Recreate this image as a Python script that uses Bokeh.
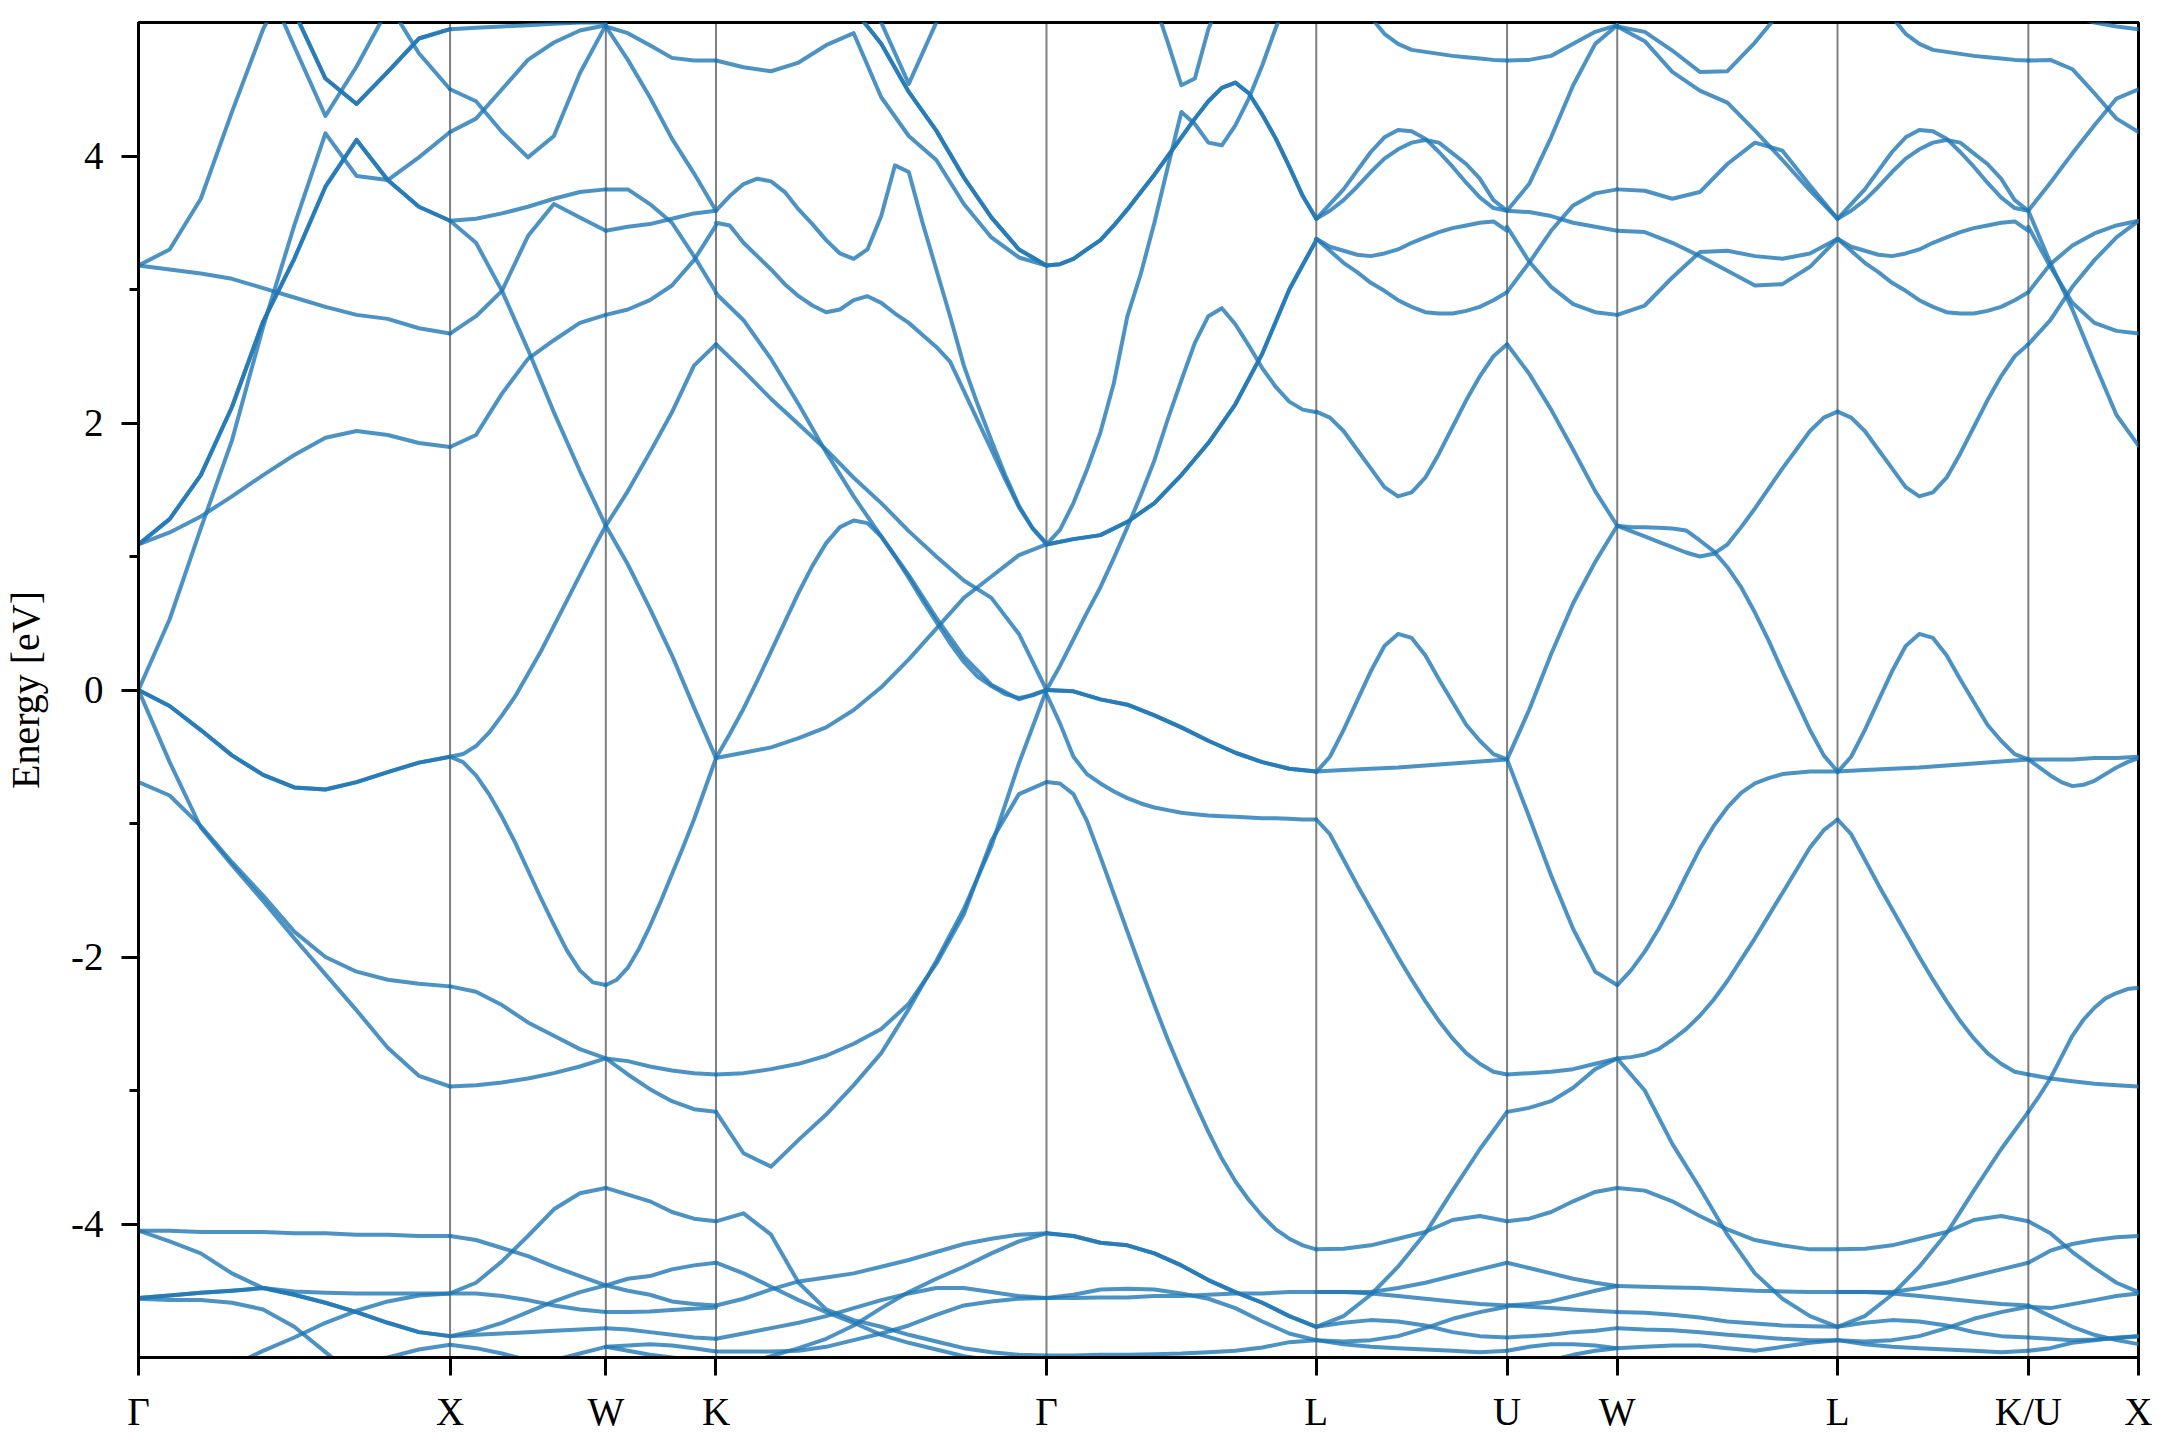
import math
from bokeh.plotting import figure
from bokeh.models import Range1d, FixedTicker, Span
from bokeh.embed import file_html
from bokeh.resources import INLINE

# ---------------- data ----------------
PATH_LABELS = ["Γ", "X", "W", "K", "Γ", "L", "U", "W", "L", "K/U", "X"]
SEGMENT_LENGTHS = [1.0, 0.5, 0.3536, 1.0607, 0.8660, 0.6124, 0.3536, 0.7071, 0.6124, 0.3536]
E_RANGE = (-5.0, 5.0)
Y_MAJOR = [-4, -2, 0, 2, 4]
Y_MAJOR_LABELS = ["-4", "-2", "0", "2", "4"]
Y_MINOR = [-3, -1, 1, 3]
N = None

# Energies (eV) read at equal steps along each segment (each band has its own step count)
GAMMA_X = {
    "double": [
        [0, -0.12, -0.30, -0.49, -0.636, -0.73, -0.745, -0.69, -0.615, -0.544, -0.50],
        [1.09, 1.28, 1.61, 2.12, 2.76, 3.23, 3.77, 4.12, 3.82, 3.62, 3.515],
        [N, N, N, N, 5.5, 5.08, 4.58, 4.39, 4.63, 4.88, 4.95],
        [-4.555, -4.535, -4.515, -4.50, -4.48, -4.53, -4.59, -4.66, -4.74, -4.81, -4.84],
    ],
    "single": [
        [0, -0.54, -1.03, -1.31, -1.58, -1.86, -2.13, -2.40, -2.68, -2.89, -2.97],
        [-0.69, -0.79, -1.02, -1.29, -1.54, -1.81, -2.00, -2.11, -2.17, -2.20, -2.22],
        [0, 0.53, 1.21, 1.87, 2.72, 3.48, 4.17, 3.85, 3.82, 3.99, 4.18],
        [1.09, 1.18, 1.30, 1.45, 1.61, 1.76, 1.89, 1.94, 1.91, 1.85, 1.82],
        [3.18, 3.30, 3.68, 4.33, 4.95, 5.4, N, N, N, N, N],
        [3.18, 3.15, 3.12, 3.08, 3.01, 2.94, 2.87, 2.81, 2.78, 2.71, 2.67],
        [N, N, N, N, 5.35, 4.82, 4.30, 4.67, 5.1, N, N],
        [N, N, N, N, N, N, N, 5.5, 5.15, 4.77, 4.50],
        [-4.05, -4.05, -4.06, -4.06, -4.06, -4.07, -4.07, -4.08, -4.08, -4.09, -4.09],
        [-4.05, -4.13, -4.22, -4.37, -4.48, -4.505, -4.515, -4.52, -4.52, -4.52, -4.52],
        [-4.56, -4.57, -4.57, -4.59, -4.64, -4.77, -4.96, -5.15, N, N, N],
        [N, N, N, -5.06, -4.95, -4.85, -4.74, -4.65, -4.58, -4.535, -4.52],
        [N, N, N, N, N, N, N, -5.02, -5.0, -4.94, -4.905],
    ],
}

X_W = {
    "double": [],
    "single": [
        [4.95, 4.96, 4.97, 4.98, 4.99, 5.0, 5.0],
        [4.50, 4.41, 4.18, 3.99, 4.15, 4.62, 4.98],
        [4.18, 4.28, 4.50, 4.72, 4.85, 4.94, 4.98],
        [3.515, 3.53, 3.57, 3.62, 3.68, 3.73, 3.75],
        [3.515, 3.35, 2.99, 2.55, 2.08, 1.64, 1.23],
        [2.67, 2.80, 2.99, 3.40, 3.64, 3.54, 3.44],
        [1.82, 1.91, 2.22, 2.48, 2.62, 2.75, 2.81],
        [-0.50, -0.48, -0.42, -0.32, -0.19, -0.05, 0.12, 0.29, 0.48, 0.67, 0.86, 1.05, 1.23],
        [-0.50, -0.54, -0.64, -0.78, -0.95, -1.14, -1.35, -1.56, -1.76, -1.95, -2.10, -2.19, -2.21],
        [-2.22, -2.26, -2.36, -2.49, -2.59, -2.69, -2.76],
        [-2.97, -2.96, -2.94, -2.91, -2.87, -2.82, -2.76],
        [-4.52, -4.44, -4.28, -4.09, -3.89, -3.77, -3.73],
        [-4.09, -4.12, -4.18, -4.24, -4.32, -4.39, -4.46],
        [-4.52, -4.52, -4.54, -4.57, -4.61, -4.64, -4.66],
        [-4.84, -4.83, -4.82, -4.81, -4.80, -4.79, -4.78],
        [-4.84, -4.80, -4.74, -4.66, -4.58, -4.51, -4.46],
        [-4.905, -4.93, -4.97, -5.02, N, N, N],
        [N, N, N, N, -5.02, -4.97, -4.92],
    ],
}

W_K = {
    "double": [],
    "single": [
        [4.97, 4.92, 4.83, 4.735, 4.715, 4.715],
        [4.97, 4.72, 4.44, 4.13, 3.87, 3.59],
        [3.75, 3.75, 3.64, 3.50, 3.25, 2.98],
        [3.44, 3.47, 3.49, 3.53, 3.57, 3.59],
        [2.81, 2.85, 2.92, 3.03, 3.22, 3.48],
        [1.23, 1.49, 1.78, 2.08, 2.43, 2.59],
        [1.23, 0.94, 0.61, 0.26, -0.13, -0.51],
        [-2.21, -2.17, -2.08, -1.94, -1.77, -1.58, -1.38, -1.18, -0.97, -0.74, -0.51],
        [-2.76, -2.78, -2.82, -2.85, -2.87, -2.88],
        [-2.76, -2.88, -2.99, -3.08, -3.14, -3.16],
        [-3.73, -3.78, -3.83, -3.91, -3.96, -3.98],
        [-4.46, -4.41, -4.39, -4.34, -4.31, -4.29],
        [-4.46, -4.50, -4.53, -4.58, -4.60, -4.61],
        [-4.66, -4.66, -4.655, -4.645, -4.635, -4.625],
        [-4.78, -4.79, -4.81, -4.83, -4.85, -4.86],
        [-4.92, -4.91, -4.90, -4.91, -4.93, -4.955],
        [-4.92, -4.95, -4.98, -5.0, -5.02, -5.03],
    ],
}

K_GAMMA = {
    "double": [
        [N, N, N, N, N, 5.1, 4.84, 4.48, 4.19, 3.84, 3.54, 3.30, 3.18],
    ],
    "single": [
        [4.715, 4.665, 4.635, 4.70, 4.83, 4.92, 4.44, 4.15, 3.97, 3.64, 3.39, 3.24, 3.18],
        [N, N, N, N, N, 5.3, 5.0, 4.54, 5.0, 5.3, N, N, N],
        [3.59, 3.70, 3.79, 3.83, 3.81, 3.73, 3.60, 3.49, 3.37, 3.27, 3.23, 3.30, 3.55,
         3.93, 3.88, 3.50, 3.15, 2.80, 2.43, 2.14, 1.87, 1.61, 1.38, 1.21, 1.10],
        [3.50, 3.48, 3.35, 3.25, 3.15, 3.04, 2.95, 2.88, 2.83, 2.85, 2.92, 2.95, 2.90,
         2.82, 2.75, 2.66, 2.57, 2.46, 2.24, 2.02, 1.80, 1.58, 1.37, 1.21, 1.09],
        [2.97, 2.77, 2.48, 2.14, 1.78, 1.45, 1.15, 0.86, 0.54, 0.25, 0.04, -0.07, 0.0],
        [2.59, 2.39, 2.18, 1.99, 1.80, 1.59, 1.40, 1.19, 1.00, 0.82, 0.69, 0.42, 0.0],
        [-0.51, -0.47, -0.43, -0.36, -0.28, -0.15, 0.02, 0.23, 0.46, 0.69, 0.85, 1.01, 1.09],
        [-0.51, -0.33, -0.14, 0.07, 0.29, 0.51, 0.73, 0.93, 1.10, 1.22, 1.27, 1.25, 1.15,
         1.00, 0.84, 0.67, 0.51, 0.35, 0.21, 0.10, 0.03, -0.03, -0.06, -0.04, 0.0],
        [-2.88, -2.87, -2.84, -2.80, -2.74, -2.65, -2.54, -2.35, -2.05, -1.68, -1.13, -0.78, -0.69],
        [-3.16, -3.47, -3.57, -3.37, -3.18, -2.96, -2.72, -2.39, -2.03, -1.64, -1.17, -0.55, 0.0],
        [-3.98, -3.92, -4.08, -4.44, -4.64, -4.72, -4.77, -4.83, -4.88, -4.93, -4.96, -4.98, -4.985],
        [-4.29, -4.37, -4.47, -4.57, -4.66, -4.74, -4.83, -4.89, -4.94, -4.99, -5.02, N, N],
        [-4.61, -4.56, -4.49, -4.43, -4.40, -4.37, -4.32, -4.27, -4.21, -4.15, -4.11, -4.08, -4.07],
        [-4.86, -4.82, -4.78, -4.74, -4.69, -4.63, -4.57, -4.52, -4.48, -4.48, -4.51, -4.54, -4.555],
        [N, -5.05, -4.99, -4.93, -4.86, -4.76, -4.63, -4.51, -4.41, -4.32, -4.22, -4.13, -4.07],
        [-4.955, -4.955, -4.955, -4.95, -4.92, -4.87, -4.82, -4.76, -4.68, -4.61, -4.58, -4.56, -4.555],
    ],
}

GAMMA_L = {
    "double": [
        [3.18, 3.19, 3.23, 3.30, 3.37, 3.48, 3.60, 3.73, 3.86, 4.00, 4.14,
         4.28, 4.41, 4.51, 4.55, 4.47, 4.31, 4.13, 3.92, 3.70, 3.53],
        [1.09, 1.13, 1.16, 1.26, 1.40, 1.61, 1.85, 2.14, 2.52, 3.0, 3.37],
        [0.0, -0.01, -0.07, -0.11, -0.19, -0.28, -0.38, -0.47, -0.54, -0.59, -0.61],
        [-4.07, -4.09, -4.14, -4.16, -4.22, -4.31, -4.42, -4.51, -4.59, -4.69, -4.77],
    ],
    "single": [
        [1.09, 1.20, 1.40, 1.65, 1.93, 2.30, 2.80, 3.12, 3.50, 3.92, 4.33,
         4.24, 4.10, 4.08, 4.23, 4.43, 4.68, 4.96, 5.2, N, N],
        [N, N, N, N, N, N, N, N, 5.15, 4.85, 4.53, 4.58, 4.95, 5.2, N, N, N, N, N, N, N],
        [0.0, 0.18, 0.38, 0.58, 0.77, 0.99, 1.22, 1.46, 1.72, 2.03, 2.32,
         2.60, 2.80, 2.86, 2.74, 2.58, 2.41, 2.27, 2.16, 2.10, 2.08],
        [-0.03, -0.25, -0.50, -0.63, -0.70, -0.76, -0.81, -0.85, -0.88, -0.90, -0.92,
         -0.93, -0.94, -0.945, -0.95, -0.955, -0.96, -0.96, -0.965, -0.97, -0.97],
        [-0.69, -0.70, -0.78, -0.98, -1.25, -1.53, -1.81, -2.09, -2.36, -2.62, -2.86,
         -3.09, -3.31, -3.51, -3.68, -3.82, -3.94, -4.04, -4.11, -4.16, -4.19],
        [-4.555, -4.53, -4.49, -4.485, -4.49, -4.52, -4.56, -4.63, -4.73, -4.82, -4.87],
        [-4.555, -4.555, -4.55, -4.55, -4.54, -4.54, -4.53, -4.52, -4.52, -4.51, -4.51],
        [-4.985, -4.985, -4.98, -4.98, -4.975, -4.97, -4.96, -4.95, -4.925, -4.885, -4.87],
    ],
}

L_U = {
    "double": [],
    "single": [
        [N, N, 5.4, 5.2, 5.04, 4.915, 4.84, 4.795, 4.78, 4.765, 4.75, 4.74, 4.73, 4.72, 4.715],
        [3.53, 3.64, 3.75, 3.89, 4.03, 4.14, 4.195, 4.185, 4.13, 4.03, 3.92, 3.80, 3.69, 3.61, 3.59],
        [3.53, 3.59, 3.67, 3.77, 3.88, 3.98, 4.05, 4.10, 4.12, 4.10, 4.02, 3.94, 3.83, 3.67, 3.59],
        [3.38, 3.32, 3.29, 3.26, 3.25, 3.27, 3.30, 3.35, 3.39, 3.43, 3.46, 3.48, 3.50, 3.51, 3.44],
        [3.38, 3.29, 3.20, 3.13, 3.05, 2.99, 2.92, 2.87, 2.83, 2.82, 2.82, 2.84, 2.87, 2.92, 2.98],
        [2.085, 2.04, 1.94, 1.80, 1.66, 1.52, 1.45, 1.48, 1.59, 1.77, 1.97, 2.17, 2.35, 2.50, 2.59],
        [-0.615, -0.50, -0.30, -0.08, 0.14, 0.33, 0.42, 0.39, 0.26, 0.08, -0.09, -0.26, -0.38, -0.48, -0.52],
        [-0.61, -0.60, -0.59, -0.58, -0.565, -0.55, -0.535, -0.52],
        [-0.97, -1.08, -1.27, -1.46, -1.64, -1.82, -2.00, -2.17, -2.33, -2.48, -2.61, -2.72, -2.80, -2.86, -2.88],
        [-4.19, -4.185, -4.16, -4.11, -4.06, -3.97, -3.94, -3.98],
        [-4.77, -4.69, -4.53, -4.32, -4.07, -3.75, -3.44, -3.16],
        [-4.51, -4.51, -4.51, -4.48, -4.44, -4.39, -4.34, -4.29],
        [-4.51, -4.51, -4.52, -4.54, -4.56, -4.58, -4.60, -4.61],
        [-4.77, -4.74, -4.72, -4.73, -4.76, -4.81, -4.84, -4.85],
        [-4.87, -4.88, -4.87, -4.84, -4.78, -4.71, -4.66, -4.62],
        [-4.87, -4.90, -4.92, -4.93, -4.94, -4.95, -4.96, -4.95],
    ],
}

U_W = {
    "double": [],
    "single": [
        [4.715, 4.72, 4.75, 4.84, 4.93, 4.98],
        [3.59, 3.79, 4.14, 4.53, 4.84, 4.98],
        [3.47, 3.21, 3.02, 2.89, 2.83, 2.81],
        [2.98, 3.20, 3.44, 3.63, 3.72, 3.75],
        [3.59, 3.58, 3.55, 3.50, 3.47, 3.44],
        [2.59, 2.37, 2.10, 1.80, 1.49, 1.23],
        [-0.52, -0.15, 0.27, 0.65, 0.96, 1.23],
        [-0.52, -0.95, -1.39, -1.79, -2.11, -2.21],
        [-2.88, -2.87, -2.86, -2.84, -2.80, -2.76],
        [-3.16, -3.13, -3.08, -2.98, -2.84, -2.76],
        [-3.98, -3.96, -3.91, -3.83, -3.76, -3.73],
        [-4.29, -4.33, -4.37, -4.41, -4.44, -4.465],
        [-4.61, -4.60, -4.58, -4.54, -4.50, -4.465],
        [-4.61, -4.62, -4.63, -4.64, -4.65, -4.66],
        [-4.85, -4.84, -4.83, -4.81, -4.80, -4.78],
        [-4.95, -4.92, -4.90, -4.90, -4.91, -4.93],
        [N, N, -5.02, -4.98, -4.95, -4.93],
    ],
}

W_L = {
    "double": [],
    "single": [
        [4.97, 4.93, 4.79, 4.63, 4.635, 4.85, 5.1, N, N],
        [4.97, 4.86, 4.63, 4.49, 4.40, 4.19, 3.97, 3.74, 3.53],
        [3.75, 3.74, 3.68, 3.73, 3.94, 4.10, 4.04, 3.78, 3.53],
        [3.44, 3.43, 3.35, 3.25, 3.14, 3.03, 3.04, 3.17, 3.38],
        [2.81, 2.88, 3.09, 3.28, 3.29, 3.25, 3.23, 3.27, 3.38],
        [1.23, 1.22, 1.22, 1.215, 1.21, 1.195, 1.12, 1.04, 0.92, 0.77, 0.58, 0.37,
         0.14, -0.08, -0.30, -0.49, -0.61],
        [1.23, 1.19, 1.15, 1.11, 1.07, 1.03, 1.00, 1.02, 1.09, 1.22, 1.36, 1.51,
         1.66, 1.80, 1.94, 2.04, 2.085],
        [-2.21, -2.10, -1.96, -1.79, -1.60, -1.39, -1.19, -1.02, -0.88, -0.77, -0.70,
         -0.66, -0.63, -0.62, -0.61, -0.61, -0.61],
        [-2.76, -2.75, -2.73, -2.69, -2.62, -2.54, -2.44, -2.32, -2.18, -2.02, -1.86,
         -1.69, -1.52, -1.35, -1.18, -1.05, -0.97],
        [-2.76, -3.0, -3.40, -3.73, -4.08, -4.37, -4.56, -4.69, -4.77],
        [-3.73, -3.75, -3.83, -3.94, -4.04, -4.12, -4.16, -4.19, -4.19],
        [-4.465, -4.47, -4.475, -4.48, -4.49, -4.50, -4.505, -4.51, -4.51],
        [-4.66, -4.665, -4.68, -4.70, -4.73, -4.745, -4.76, -4.765, -4.77],
        [-4.78, -4.79, -4.795, -4.81, -4.83, -4.845, -4.86, -4.87, -4.87],
        [-4.93, -4.92, -4.91, -4.91, -4.93, -4.95, -4.92, -4.89, -4.87],
    ],
}

L_KU = L_U  # same band values read along L-K/U

KU_X = {
    "double": [],
    "single": [
        [N, N, 5.05, 5.0, 4.97, 4.95],
        [4.715, 4.72, 4.65, 4.47, 4.28, 4.18],
        [3.59, 3.80, 4.02, 4.23, 4.43, 4.50],
        [3.59, 3.2, 2.85, 2.45, 2.06, 1.83],
        [3.47, 3.17, 2.9, 2.75, 2.69, 2.67],
        [2.98, 3.19, 3.33, 3.42, 3.48, 3.515],
        [2.59, 2.77, 3.02, 3.22, 3.39, 3.515],
        [-0.52, -0.58, -0.64, -0.69, -0.72, -0.71, -0.68, -0.63, -0.58, -0.54, -0.51],
        [-0.52, -0.52, -0.52, -0.51, -0.51, -0.50],
        [-2.88, -2.91, -2.93, -2.95, -2.96, -2.97],
        [-3.16, -3.04, -2.91, -2.75, -2.59, -2.47, -2.38, -2.31, -2.27, -2.24, -2.23],
        [-3.98, -4.07, -4.21, -4.33, -4.44, -4.51],
        [-4.29, -4.20, -4.15, -4.12, -4.10, -4.09],
        [-4.61, -4.69, -4.77, -4.83, -4.87, -4.90],
        [-4.62, -4.63, -4.60, -4.57, -4.54, -4.52],
        [-4.85, -4.86, -4.87, -4.865, -4.855, -4.84],
        [-4.95, -4.93, -4.89, -4.87, -4.85, -4.84],
    ],
}

SEGMENTS = [GAMMA_X, X_W, W_K, K_GAMMA, GAMMA_L, L_U, U_W, W_L, L_KU, KU_X]

# ---------------- build ----------------
positions = [0.0]
for length in SEGMENT_LENGTHS:
    positions.append(positions[-1] + length)
total = positions[-1]

xs_all, ys_all = [], []


def add_band(x0, length, values):
    n = len(values)
    run_x, run_y = [], []
    for i, v in enumerate(values):
        if v is None:
            if len(run_x) > 1:
                xs_all.append(run_x)
                ys_all.append(run_y)
            run_x, run_y = [], []
            continue
        run_x.append(x0 + length * i / (n - 1))
        run_y.append(v)
    if len(run_x) > 1:
        xs_all.append(run_x)
        ys_all.append(run_y)


for seg, x0, length in zip(SEGMENTS, positions[:-1], SEGMENT_LENGTHS):
    for band in seg["double"]:
        add_band(x0, length, band)
        add_band(x0, length, band)
    for band in seg["single"]:
        add_band(x0, length, band)

FONT = "Liberation Serif"

p = figure(
    output_backend="svg",
    toolbar_location=None,
    frame_width=2000,
    frame_height=1335,
    min_border_left=137,
    min_border_right=14,
    min_border_top=22,
    min_border_bottom=75,
    x_range=Range1d(0, total),
    y_range=Range1d(*E_RANGE),
    background_fill_color="white",
    border_fill_color="white",
)
p.xgrid.visible = False
p.ygrid.visible = False
p.outline_line_color = "black"
p.outline_line_width = 3
p.outline_line_alpha = 1.0

for x in positions[1:-1]:
    p.add_layout(Span(location=x, dimension="height", line_color="black",
                      line_alpha=0.5, line_width=2, level="underlay"))

p.multi_line(xs_all, ys_all, line_color="#1f77b4", line_alpha=0.8, line_width=4,
             line_join="round", line_cap="round")

# x axis
p.xaxis.ticker = FixedTicker(ticks=positions)
p.xaxis.major_label_overrides = {pos: lab for pos, lab in zip(positions, PATH_LABELS)}
p.xaxis.minor_tick_line_color = None
p.xaxis.major_tick_out = 18
p.xaxis.major_tick_in = 0
p.xaxis.major_tick_line_width = 3
p.xaxis.axis_line_width = 3
p.xaxis.major_label_text_font = FONT
p.xaxis.major_label_text_font_size = "39px"
p.xaxis.major_label_text_color = "black"
p.xaxis.major_label_standoff = 14

# y axis
p.yaxis.ticker = FixedTicker(ticks=Y_MAJOR, minor_ticks=Y_MINOR)
p.yaxis.major_label_overrides = {t: lab for t, lab in zip(Y_MAJOR, Y_MAJOR_LABELS)}
p.yaxis.major_tick_out = 17
p.yaxis.major_tick_in = 0
p.yaxis.minor_tick_out = 9
p.yaxis.minor_tick_in = 0
p.yaxis.major_tick_line_width = 3
p.yaxis.minor_tick_line_width = 3
p.yaxis.axis_line_width = 3
p.yaxis.major_label_text_font = FONT
p.yaxis.major_label_text_font_size = "39px"
p.yaxis.major_label_text_color = "black"
p.yaxis.major_label_standoff = 18
p.yaxis.axis_label = "Energy [eV]"
p.yaxis.axis_label_text_font = FONT
p.yaxis.axis_label_text_font_size = "40px"
p.yaxis.axis_label_text_font_style = "normal"
p.yaxis.axis_label_text_color = "black"
p.yaxis.axis_label_standoff = 20

open("out.html", "w").write(file_html(p, INLINE))
